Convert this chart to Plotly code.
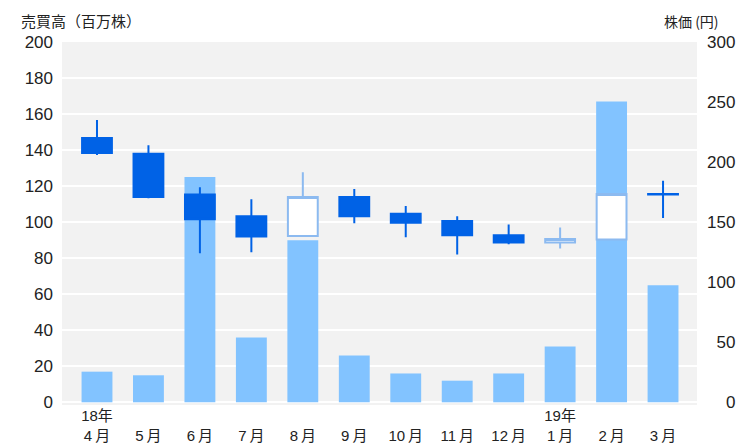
import plotly.graph_objects as go

# Monthly trading volume (millions of shares) and OHLC share price (yen)
months = ["4月", "5月", "6月", "7月", "8月", "9月", "10月", "11月", "12月", "1月", "2月", "3月"]
years = ["18年", "", "", "", "", "", "", "", "", "19年", "", ""]
volume = [17, 15, 125, 36, 90, 26, 16, 12, 16, 31, 167, 65]
price_open = [220, 207, 173, 155, 138.5, 171, 157, 151, 139, 133, 135.5, 173.5]
price_high = [235, 214, 179, 169, 191.5, 177.5, 163.5, 155, 148, 145.5, 173.8, 184.5]
price_low = [206, 170, 124, 125, 138, 149, 137.5, 123, 131.5, 128, 135.2, 153.5]
price_close = [207.5, 171, 152.5, 138, 171, 155, 149.5, 139, 133, 136, 173.5, 173]

vol_ticks = list(range(0, 201, 20))
price_ticks = list(range(0, 301, 50))

x = list(range(len(months)))
# thin space between the number and 月 for a looser Japanese-style setting
tick_text = [f"{y if y else ' '}<br>{m[:-1]}\u2009{m[-1]}" for y, m in zip(years, months)]

NUM_FONT = "Liberation Sans, Arial, Noto Sans CJK JP"
JP_FONT = "Noto Sans CJK JP, Liberation Sans"
BAR_COLOR = "#82C3FF"
DOWN_COLOR = "#0062E6"
UP_LINE = "#8CBAF0"

# plot area in pixels
W, H = 737, 443
ML, MR, MT, MB = 62, 40, 42, 38

fig = go.Figure()

fig.add_trace(go.Bar(
    x=x, y=volume, marker=dict(color=BAR_COLOR, line=dict(width=0)),
    yaxis="y", showlegend=False, hoverinfo="skip",
))

fig.add_trace(go.Candlestick(
    x=x, open=price_open, high=price_high, low=price_low, close=price_close,
    yaxis="y2", showlegend=False, whiskerwidth=0,
    increasing=dict(fillcolor="#FFFFFF", line=dict(color=UP_LINE, width=2)),
    decreasing=dict(fillcolor=DOWN_COLOR, line=dict(color=DOWN_COLOR, width=2)),
))

# right-aligned price labels using figure spaces
price_text = [("\u2007" * (3 - len(str(v)))) + str(v) for v in price_ticks]


def px_to_paper(px, py):
    return (px - ML) / (W - ML - MR), (H - py - MB) / (H - MT - MB)


lx, ly = px_to_paper(19, 21)
rx, ry = px_to_paper(721, 21)

fig.update_layout(
    width=W, height=H,
    margin=dict(l=ML, r=MR, t=MT, b=MB, autoexpand=False),
    paper_bgcolor="#FFFFFF",
    plot_bgcolor="#F2F2F2",
    bargap=0.4,
    boxgap=0.42, boxgroupgap=0,
    font=dict(family=NUM_FONT, color="#222222"),
    xaxis=dict(
        range=[-0.68, 11.66], tickmode="array", tickvals=x, ticktext=tick_text,
        showgrid=False, zeroline=False, showline=False, ticks="",
        tickfont=dict(size=15, family=NUM_FONT, color="#222222"),
        rangeslider=dict(visible=False), fixedrange=True, automargin=False,
        ticklabelstandoff=0,
    ),
    yaxis=dict(
        range=[-1.5, 200], tickmode="array", tickvals=vol_ticks,
        showgrid=True, gridcolor="#FFFFFF", gridwidth=2,
        zeroline=False, showline=False, ticks="", automargin=False,
        tickfont=dict(size=17, family=NUM_FONT, color="#222222"),
        ticklabelstandoff=8,
    ),
    yaxis2=dict(
        range=[-2.25, 300], overlaying="y", side="right",
        tickmode="array", tickvals=price_ticks, ticktext=price_text,
        showgrid=False, zeroline=False, showline=False, ticks="", automargin=False,
        tickfont=dict(size=17, family=NUM_FONT, color="#222222"),
        ticklabelstandoff=9,
    ),
    annotations=[
        dict(text="売買高（百万株）", x=lx, y=ly, xref="paper", yref="paper",
             showarrow=False, xanchor="left", yanchor="middle",
             font=dict(size=15, family=JP_FONT, color="#222222")),
        dict(text="株価 (円)", x=rx, y=ry, xref="paper", yref="paper",
             showarrow=False, xanchor="right", yanchor="middle",
             font=dict(size=14, family=JP_FONT, color="#222222")),
    ],
)

fig.write_html("out.html")
